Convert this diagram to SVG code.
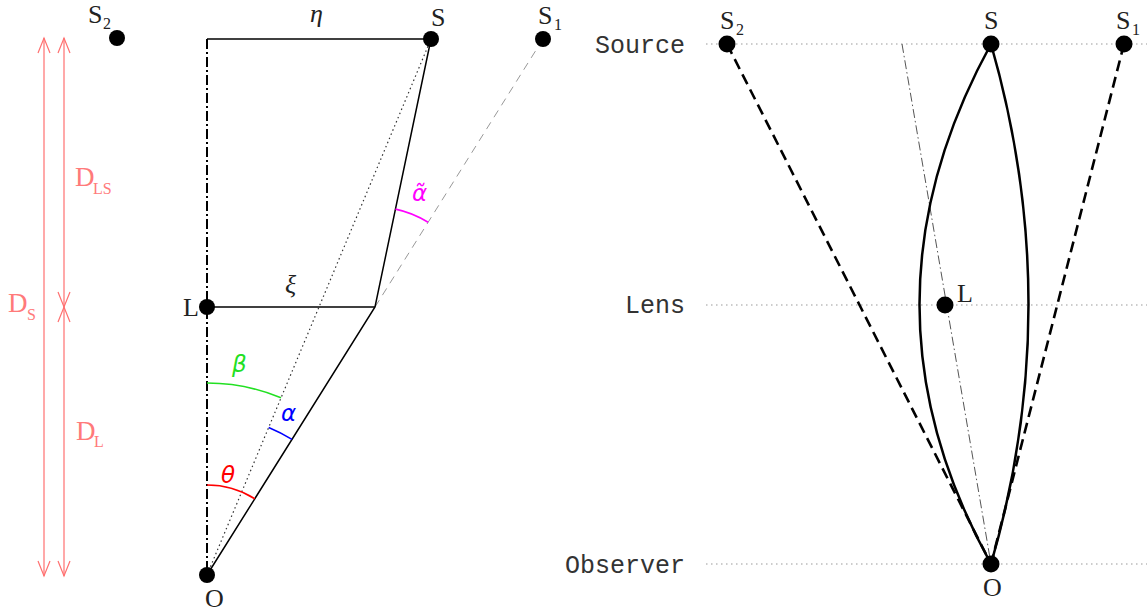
<svg xmlns="http://www.w3.org/2000/svg" width="1147" height="612" viewBox="0 0 1147 612">
<style>
.bg{fill:#fff}
.dot{fill:#000}
.lbl{font-family:"Liberation Serif","DejaVu Serif",serif;font-size:26px;fill:#222}
.sub{font-family:"Liberation Serif","DejaVu Serif",serif;font-size:16px;fill:#222}
.dl{font-family:"Liberation Serif","DejaVu Serif",serif;font-size:27px;fill:#ff7a7a}
.dls{font-family:"Liberation Serif","DejaVu Serif",serif;font-size:16px;fill:#ff7a7a}
.gk{font-family:"Liberation Serif","DejaVu Serif",serif;font-style:italic;font-size:26px;fill:#222}
.ang{font-family:"DejaVu Sans",sans-serif;font-style:italic;font-size:23px}
.row{font-family:"Liberation Mono","DejaVu Sans Mono",monospace;font-size:25px;fill:#333;text-anchor:end}
.thin{stroke:#000;stroke-width:1.3;fill:none}
.ray{stroke:#000;stroke-width:1.5;fill:none}
.dashdot{stroke:#000;stroke-width:2;fill:none;stroke-dasharray:10 3 2 3}
.dotted{stroke:#333;stroke-width:1.2;fill:none;stroke-dasharray:1.5 3}
.gdash{stroke:#999;stroke-width:1;fill:none;stroke-dasharray:8 6}
.dist{stroke:#ff7070;stroke-width:1.2;fill:none;marker-start:url(#ah);marker-end:url(#ah)}
.guide{stroke:#999;stroke-width:1.2;fill:none;stroke-dasharray:1.5 3.5}
.axis{stroke:#555;stroke-width:1;fill:none;stroke-dasharray:9 3 1.5 3}
.img{stroke:#000;stroke-width:2.6;fill:none;stroke-dasharray:11 6}
.curve{stroke:#000;stroke-width:2.5;fill:none}
.arc{stroke-width:1.6;fill:none}
</style>
<defs>
<marker id="ah" markerUnits="userSpaceOnUse" markerWidth="20" markerHeight="16" viewBox="-16 -8 20 16" refX="0" refY="0" orient="auto-start-reverse" overflow="visible">
<path d="M-15,-6 L0,0 L-15,6" fill="none" stroke="#ff7070" stroke-width="1.2"/>
</marker>
</defs>
<rect class="bg" x="0" y="0" width="1147" height="612"/>

<g id="connectors">
<!-- left panel -->
<line class="dashdot" x1="207" y1="39" x2="207" y2="575"/>
<line class="thin" x1="207" y1="39" x2="431" y2="39"/>
<line class="thin" x1="207" y1="307" x2="375" y2="307"/>
<line class="dotted" x1="207" y1="575" x2="431" y2="39"/>
<line class="gdash" x1="375" y1="307" x2="543" y2="39"/>
<polyline class="ray" points="207,575 375,307 431,39"/>
<line class="dist" x1="44" y1="38" x2="44" y2="576"/>
<line class="dist" x1="64" y1="38" x2="64" y2="307"/>
<line class="dist" x1="64" y1="307" x2="64" y2="576"/>
<path class="arc" stroke="#ff0000" d="M207,485 A90,90 0 0,1 254.8,498.7"/>
<path class="arc" stroke="#22e022" d="M207,383 A192,192 0 0,1 281,397.8"/>
<path class="arc" stroke="#0000ff" d="M268.7,427.4 A160,160 0 0,1 292,439.4"/>
<path class="arc" stroke="#ff00ff" d="M395.5,209.1 A100,100 0 0,1 428.1,222.3"/>
<!-- right panel -->
<line class="guide" x1="706" y1="44" x2="1147" y2="44"/>
<line class="guide" x1="706" y1="305" x2="1147" y2="305"/>
<line class="guide" x1="706" y1="564" x2="1147" y2="564"/>
<line class="axis" x1="902" y1="44" x2="991" y2="564"/>
<line class="img" x1="727" y1="44" x2="991" y2="564"/>
<line class="img" x1="1124" y1="44" x2="991" y2="564"/>
<path class="curve" d="M991,44 Q848,305 991,564"/>
<path class="curve" d="M991,44 Q1066,305 991,564"/>
</g>

<g id="distance-labels">
<text class="dl" x="75" y="186">D</text><text class="dls" x="93" y="194">LS</text>
<text class="dl" x="8" y="312">D</text><text class="dls" x="27" y="320">S</text>
<text class="dl" x="76" y="440">D</text><text class="dls" x="94" y="447">L</text>
</g>

<g id="angle-labels">
<text class="gk" x="310" y="22">η</text>
<text class="gk" x="285" y="293">ξ</text>
<text class="ang" fill="#22e022" x="232" y="372">β</text>
<text class="ang" fill="#0000ff" x="281" y="421">α</text>
<text class="ang" fill="#ff0000" x="221" y="483">θ</text>
<text class="ang" fill="#ff00ff" x="412" y="201">α̃</text>
</g>

<g id="node-S2"><circle class="dot" cx="117" cy="38" r="8"/><text class="lbl" x="88" y="23">S</text><text class="sub" x="103" y="29">2</text></g>
<g id="node-S"><circle class="dot" cx="431" cy="39" r="8"/><text class="lbl" x="431" y="26">S</text></g>
<g id="node-S1"><circle class="dot" cx="543" cy="39" r="8"/><text class="lbl" x="538" y="24">S</text><text class="sub" x="554" y="30">1</text></g>
<g id="node-L"><circle class="dot" cx="207" cy="307" r="8"/><text class="lbl" x="183" y="316">L</text></g>
<g id="node-O"><circle class="dot" cx="207" cy="575" r="8"/><text class="lbl" x="205" y="607">O</text></g>

<g id="row-labels">
<text class="row" x="685" y="53">Source</text>
<text class="row" x="685" y="313">Lens</text>
<text class="row" x="685" y="573">Observer</text>
</g>

<g id="node-S2r"><circle class="dot" cx="727" cy="44" r="8.5"/><text class="lbl" x="720" y="29">S</text><text class="sub" x="736" y="35">2</text></g>
<g id="node-Sr"><circle class="dot" cx="991" cy="44" r="8.5"/><text class="lbl" x="984" y="29">S</text></g>
<g id="node-S1r"><circle class="dot" cx="1124" cy="44" r="8.5"/><text class="lbl" x="1116" y="29">S</text><text class="sub" x="1132" y="35">1</text></g>
<g id="node-Lr"><circle class="dot" cx="945" cy="305" r="8.5"/><text class="lbl" x="957" y="302">L</text></g>
<g id="node-Or"><circle class="dot" cx="991" cy="564" r="8.5"/><text class="lbl" x="983" y="596">O</text></g>
</svg>
